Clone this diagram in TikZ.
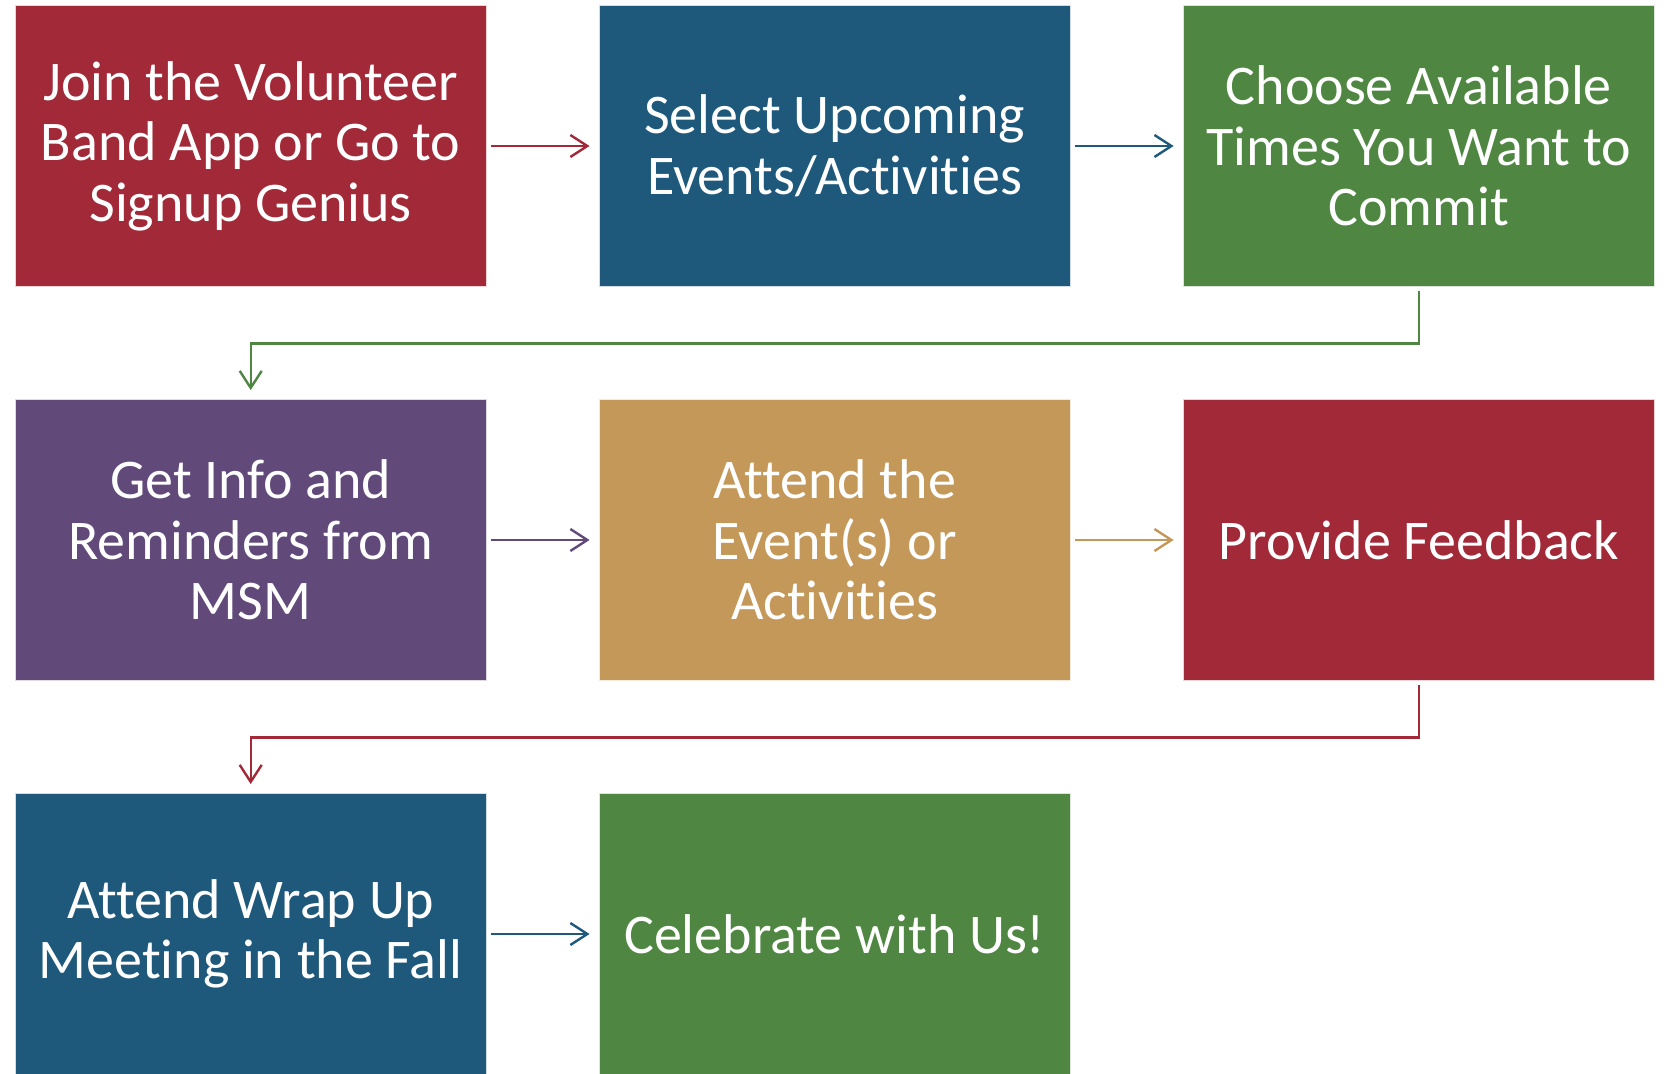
\documentclass[tikz,border=0pt]{standalone}
\usepackage{fontspec}
\setmainfont{Carlito}[Ligatures=NoCommon]
\usetikzlibrary{arrows.meta}
\definecolor{cred}{RGB}{161,41,56}
\definecolor{cblue}{RGB}{30,88,122}
\definecolor{cgreen}{RGB}{79,134,65}
\definecolor{cpurple}{RGB}{97,74,122}
\definecolor{ctan}{RGB}{195,152,89}
\tikzset{
  stepbox/.style={rectangle, inner sep=0pt, minimum width=235.75pt, minimum height=140.5pt,
    align=center, text=white, draw=white!80!#1, line width=0.4pt, fill=#1,
    font=\fontsize{28pt}{30.25pt}\selectfont},
  conn/.style={draw=#1, line width=1.2pt, -{Straight Barb[length=8.5pt,width=11pt,line width=1.2pt]}},
}
\begin{document}
\begin{tikzpicture}[x=0.5pt,y=-0.5pt]
\useasboundingbox (0,0) rectangle (1665,1074);
\node[stepbox=cred]    (a) at (250.7,146) {Join the Volunteer\\Band App or Go to\\Signup Genius};
\node[stepbox=cblue]   (b) at (834.7,146) {Select Upcoming\\Events/Activities};
\node[stepbox=cgreen]  (c) at (1418.8,146) {Choose Available\\Times You Want to\\Commit};
\node[stepbox=cpurple] (d) at (250.7,540) {Get Info and\\Reminders from\\MSM};
\node[stepbox=ctan]    (e) at (834.7,540) {Attend the\\Event(s) or\\Activities};
\node[stepbox=cred]    (f) at (1418.8,540) {Provide Feedback};
\node[stepbox=cblue]   (g) at (250.7,934) {Attend Wrap Up\\Meeting in the Fall};
\node[stepbox=cgreen]  (h) at (834.7,934) {Celebrate with Us!};
\draw[conn=cred]    ([xshift=2pt]a.east) -- ([xshift=-4.5pt]b.west);
\draw[conn=cblue]   ([xshift=2pt]b.east) -- ([xshift=-4.5pt]c.west);
\draw[conn=cpurple] ([xshift=2pt]d.east) -- ([xshift=-4.5pt]e.west);
\draw[conn=ctan]    ([xshift=2pt]e.east) -- ([xshift=-4.5pt]f.west);
\draw[conn=cblue]   ([xshift=2pt]g.east) -- ([xshift=-4.5pt]h.west);
\draw[conn=cgreen]  ([yshift=-2pt]c.south) |- (250.7,343.5) -- ([yshift=4.5pt]d.north);
\draw[conn=cred]    ([yshift=-2pt]f.south) |- (250.7,737.5) -- ([yshift=4.5pt]g.north);
\end{tikzpicture}
\end{document}
